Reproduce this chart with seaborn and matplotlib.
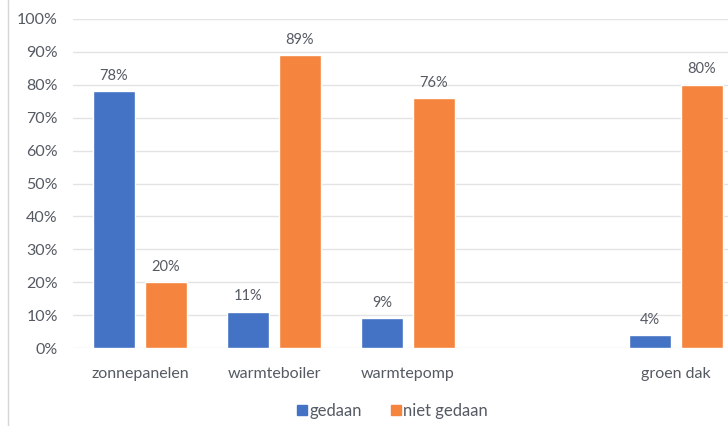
import matplotlib
matplotlib.use("Agg")
import matplotlib.pyplot as plt
from matplotlib.lines import Line2D
import pandas as pd
import seaborn as sns

# Survey results: share of respondents per measure
categories = ["zonnepanelen", "warmteboiler", "warmtepomp", "groen dak"]
gedaan = [78, 11, 9, 4]
niet_gedaan = [20, 89, 76, 80]
series_names = ["gedaan", "niet gedaan"]
y_ticks = [0, 10, 20, 30, 40, 50, 60, 70, 80, 90, 100]

# an empty slot keeps the wider spacing before "groen dak"
axis_order = categories[:3] + [""] + categories[3:]

df = pd.DataFrame({
    "maatregel": categories * 2,
    "status": [series_names[0]] * len(categories) + [series_names[1]] * len(categories),
    "aandeel": gedaan + niet_gedaan,
})

sns.set_theme(style="white")
plt.rcParams["font.family"] = ["Lato", "DejaVu Sans"]

text_grey = "#555a63"
palette = {"gedaan": "#4472C4", "niet gedaan": "#F5843E"}

fig = plt.figure(figsize=(7.28, 4.26), dpi=100)
ax = fig.add_axes([73 / 728, 78 / 426, 670 / 728, 329 / 426])

sns.barplot(
    data=df, x="maatregel", y="aandeel", hue="status",
    order=axis_order, hue_order=series_names, palette=palette,
    width=0.776, gap=0.21, saturation=1, legend=False, ax=ax,
)

for container in ax.containers:
    ax.bar_label(container, fmt="%g%%", padding=6, color=text_grey, fontsize=10.5)

ax.set_ylim(0, 100)
ax.set_xlim(-0.5, len(axis_order) - 0.5)
ax.set_yticks(y_ticks)
ax.set_yticklabels([f"{t}%" for t in y_ticks])
ax.yaxis.grid(True, color="#e3e3e3", linewidth=1)
ax.set_axisbelow(True)
ax.tick_params(axis="both", length=0, colors=text_grey, labelsize=11.5)
ax.tick_params(axis="y", pad=11)
ax.tick_params(axis="x", pad=14)
ax.set_xlabel("")
ax.set_ylabel("")
for side in ["top", "right", "left", "bottom"]:
    ax.spines[side].set_visible(False)

handles = [
    Line2D([], [], marker="s", linestyle="none", markersize=7,
           markerfacecolor=palette[n], markeredgecolor=palette[n], label=n)
    for n in series_names
]
fig.legend(handles=handles, loc="center", bbox_to_anchor=(390 / 728, 1 - 411 / 426),
           ncol=2, frameon=False, fontsize=12, handletextpad=-0.15,
           handlelength=1.2, columnspacing=1.4, labelcolor=text_grey)

# thin sheet border at the left edge
fig.add_artist(Line2D([8 / 728, 8 / 728], [0, 1], transform=fig.transFigure,
                      color="#d6d6d6", linewidth=1))

fig.savefig("out.png", dpi=100)
